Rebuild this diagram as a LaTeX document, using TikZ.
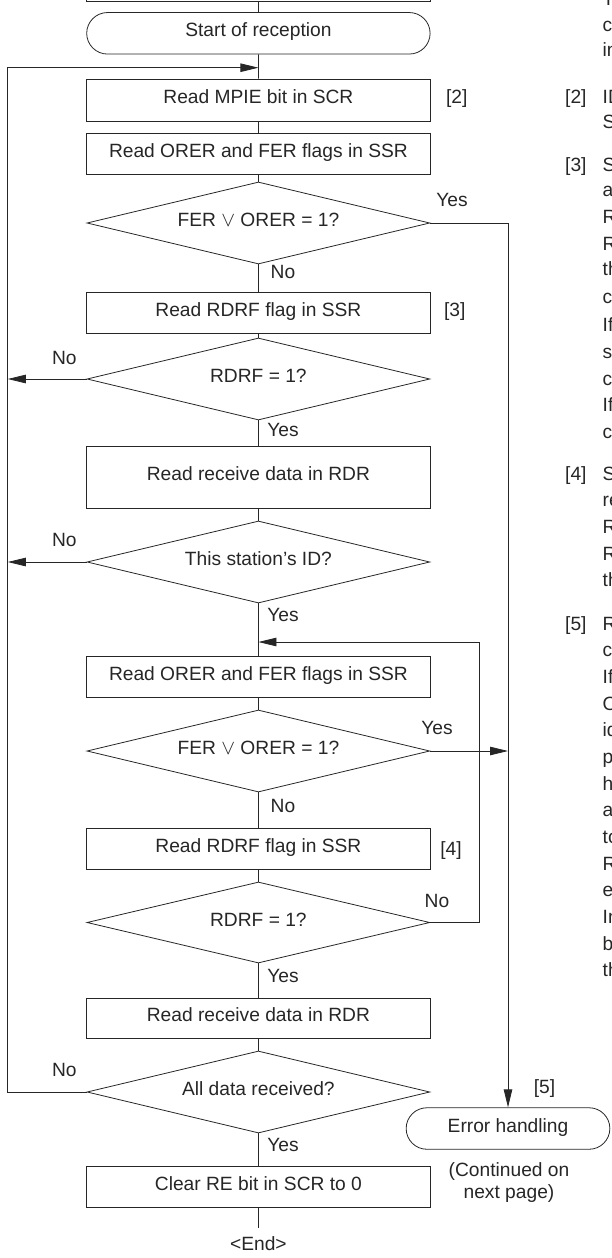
\documentclass[tikz,border=0pt]{standalone}
\usepackage{fontspec}
\setmainfont{Liberation Sans}
\usetikzlibrary{arrows.meta,shapes.geometric,shapes.misc}
\newcommand{\fsz}{\fontsize{19.2pt}{23pt}\selectfont}
\tikzset{
  ln/.style={line width=0.8pt, draw=black!85},
  arr/.style={ln, -{Triangle[length=18pt,width=8.5pt]}},
  txt/.style={font=\fsz, text=black!85, inner sep=0pt, text height=0.716em, text depth=0pt},
  stepbox/.style={txt, ln, rectangle, minimum width=343.4pt, minimum height=41pt},
  term/.style={txt, ln, rounded rectangle, minimum height=41.5pt},
  dec/.style={txt, ln, diamond, aspect=4.18, minimum width=342.8pt, minimum height=82pt},
  lab/.style={txt},
  col/.style={txt, anchor=west},
}
\begin{document}
\begin{tikzpicture}[x=1pt,y=-1pt]
\useasboundingbox (0,0) rectangle (612,1258);
\clip (0,0) rectangle (612,1258);

% flow nodes
\node[stepbox, minimum height=60pt] (prev) at (258.4,-29) {};
\node[term, minimum width=343.4pt] (start) at (258.4,33.3) {Start of reception};
\node[stepbox, minimum height=42pt] (b1) at (258.4,100) {Read MPIE bit in SCR};
\node[stepbox] (b2) at (258.4,153.5) {Read ORER and FER flags in SSR};
\node[dec] (d1) at (258.4,223) {FER $\vee$ ORER = 1?};
\node[stepbox] (b3) at (258.4,312.5) {Read RDRF flag in SSR};
\node[dec] (d2) at (258.4,379) {RDRF = 1?};
\node[stepbox, minimum height=62pt] (b4) at (258.4,477) {Read receive data in RDR};
\node[dec] (d3) at (258.4,562) {This station's ID?};
\node[stepbox] (b5) at (258.4,676.5) {Read ORER and FER flags in SSR};
\node[dec] (d4) at (258.4,751) {FER $\vee$ ORER = 1?};
\node[stepbox] (b6) at (258.4,848.5) {Read RDRF flag in SSR};
\node[dec, minimum height=81pt] (d5) at (258.4,922.5) {RDRF = 1?};
\node[stepbox, minimum height=40pt] (b7) at (258.4,1018) {Read receive data in RDR};
\node[dec] (d6) at (258.4,1092) {All data received?};
\node[stepbox] (b8) at (258.4,1186.5) {Clear RE bit in SCR to 0};
\node[term, minimum width=203.7pt] (err) at (508,1128.5) {Error handling};
\node[lab] (endt) at (258.4,1247) {<End>};

% helper coordinates
\coordinate (j1) at (258.4,67.7);
\coordinate (Lt) at (7.8,67.7);
\coordinate (Lb) at (7.8,1092);
\coordinate (j2) at (258.4,642);
\coordinate (R2) at (479,642);
\coordinate (endc) at (258.4,1228);

% vertical chain
\draw[ln] (prev) -- (start);
\draw[ln] (start) -- (b1);
\draw[ln] (b1) -- (b2);
\draw[ln] (b2) -- (d1);
\draw[ln] (d1) -- (b3);
\draw[ln] (b3) -- (d2);
\draw[ln] (d2) -- (b4);
\draw[ln] (b4) -- (d3);
\draw[ln] (d3) -- (b5);
\draw[ln] (b5) -- (d4);
\draw[ln] (d4) -- (b6);
\draw[ln] (b6) -- (d5);
\draw[ln] (d5) -- (b7);
\draw[ln] (b7) -- (d6);
\draw[ln] (d6) -- (b8);
\draw[ln] (b8.south) -- (endc);

% loops
\draw[arr] (d6.west) -- (Lb) -- (Lt) -- (j1);
\draw[arr] (d2.west) -- (d2.west -| Lt);
\draw[arr] (d3.west) -- (d3.west -| Lt);
\draw[arr] (d1.east) -| (err.north);
\draw[arr] (d4.east) -- (d4.east -| err.north);
\draw[arr] (d5.east) -| (R2) -- (j2);

% labels
\node[lab] (y1) at (452,203) {Yes};
\node[lab] (n1) at (283,275) {No};
\node[lab] (l2) at (456.7,100) {[2]};
\node[lab] (l3) at (454.7,313) {[3]};
\node[lab] (n2) at (64.4,361) {No};
\node[lab] (y2) at (283,433) {Yes};
\node[lab] (n3) at (64.4,543) {No};
\node[lab] (y3) at (283,618) {Yes};
\node[lab] (y4) at (437,731) {Yes};
\node[lab] (n4) at (283,809) {No};
\node[lab] (l4) at (451,852) {[4]};
\node[lab] (n5) at (437,904) {No};
\node[lab] (y5) at (283,979) {Yes};
\node[lab] (n6) at (64.4,1073) {No};
\node[lab] (y6) at (283,1148) {Yes};
\node[lab] (l5) at (544.5,1090) {[5]};
\node[lab] (c1) at (509,1173) {(Continued on};
\node[lab] (c2) at (509,1195) {next page)};

% right text column (cut off at the page edge, as in the reference)
\node[col] (r2) at (565,100) {[2]};
\node[col] (r3) at (565,168) {[3]};
\node[col] (r4) at (565,477) {[4]};
\node[col] (r5) at (565,627) {[5]};
\foreach \yy/\tt in {1.5/The, 28/configured, 53/input pin.,
  100/ID reception cycle:, 125/Set the MPIE bit in SCR to 1.,
  168/SCI status check, 193/and comparison:, 220/Read SSR and check that,
  247/RDRF flag is set to 1, 272/the receive data in RDR,
  300/compare it with this ID., 328/If the data is not this ID,
  355/set the MPIE bit to 1 again, 382/clear the RDRF flag to 0.,
  408/If the data is this ID, 435/clear the RDRF flag to 0.,
  477/SCI status check and data, 503/reception:, 530/Read SSR and check that,
  557/RDRF flag is set to 1, 583/then read the data in RDR.,
  627/Receive error processing, 653/check:, 680/If a receive error occurs,
  707/ORER and FER flags, 733/identify the error, 760/performing the error,
  787/handling, 813/and clear the flags, 840/to 0., 867/Reception cannot be,
  893/either flag is set to 1., 920/In the case of a framing, 947/break can be detected,
  973/the RxD pin value.}
  \node[col] at (602.5,\yy) {\tt};
\end{tikzpicture}
\end{document}
